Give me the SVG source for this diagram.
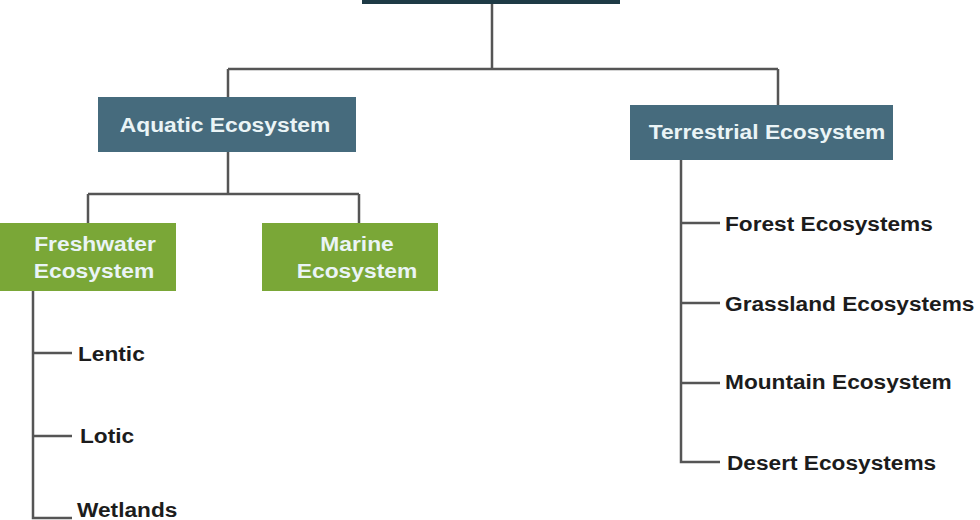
<svg xmlns="http://www.w3.org/2000/svg" width="980" height="520" viewBox="0 0 980 520">
<style>
.blue{fill:#466b7d}
.green{fill:#7aa737}
.top{fill:#1e3a45}
.bt{font-family:"Liberation Sans",Arial,sans-serif;font-weight:bold;font-size:19.5px;fill:#eaf4f6;text-anchor:middle}
.lt{font-family:"Liberation Sans",Arial,sans-serif;font-weight:bold;font-size:21px;fill:#1c1c1c}
.c{fill:none;stroke:#555;stroke-width:2.5}
</style>
<rect width="980" height="520" fill="#fff"/>
<g id="connectors">
<path class="c" d="M492 3V69M228 69H778M228 69V97M778 69V105"/>
<path class="c" d="M228 152V194M88 194H359M88 194V223M359 194V223"/>
<path class="c" d="M33 291V518H72M33 353H72M33 436H72"/>
<path class="c" d="M681 160V462H720M681 223H720M681 303H720M681 383H720"/>
</g>
<g id="root"><rect class="top" x="362" y="-40" width="258" height="44"/></g>
<g id="aquatic"><rect class="blue" x="98" y="97" width="258" height="55"/><text class="bt" transform="translate(225 132) scale(1.17 1)">Aquatic Ecosystem</text></g>
<g id="terrestrial"><rect class="blue" x="630" y="105" width="263" height="55"/><text class="bt" transform="translate(767 139) scale(1.17 1)">Terrestrial Ecosystem</text></g>
<g id="freshwater"><rect class="green" x="0" y="223" width="176" height="68"/><text class="bt" transform="translate(95 251) scale(1.17 1)">Freshwater</text><text class="bt" transform="translate(94 278) scale(1.17 1)">Ecosystem</text></g>
<g id="marine"><rect class="green" x="262" y="223" width="176" height="68"/><text class="bt" transform="translate(357 251) scale(1.17 1)">Marine</text><text class="bt" transform="translate(357 278) scale(1.17 1)">Ecosystem</text></g>
<g id="lentic"><text class="lt" transform="translate(78 361) scale(1.08 1)">Lentic</text></g>
<g id="lotic"><text class="lt" transform="translate(80 443) scale(1.08 1)">Lotic</text></g>
<g id="wetlands"><text class="lt" transform="translate(77 517) scale(1.08 1)">Wetlands</text></g>
<g id="forest"><text class="lt" transform="translate(725 231) scale(1.08 1)">Forest Ecosystems</text></g>
<g id="grassland"><text class="lt" transform="translate(725 311) scale(1.08 1)">Grassland Ecosystems</text></g>
<g id="mountain"><text class="lt" transform="translate(725 389) scale(1.08 1)">Mountain Ecosystem</text></g>
<g id="desert"><text class="lt" transform="translate(727 470) scale(1.08 1)">Desert Ecosystems</text></g>
</svg>
